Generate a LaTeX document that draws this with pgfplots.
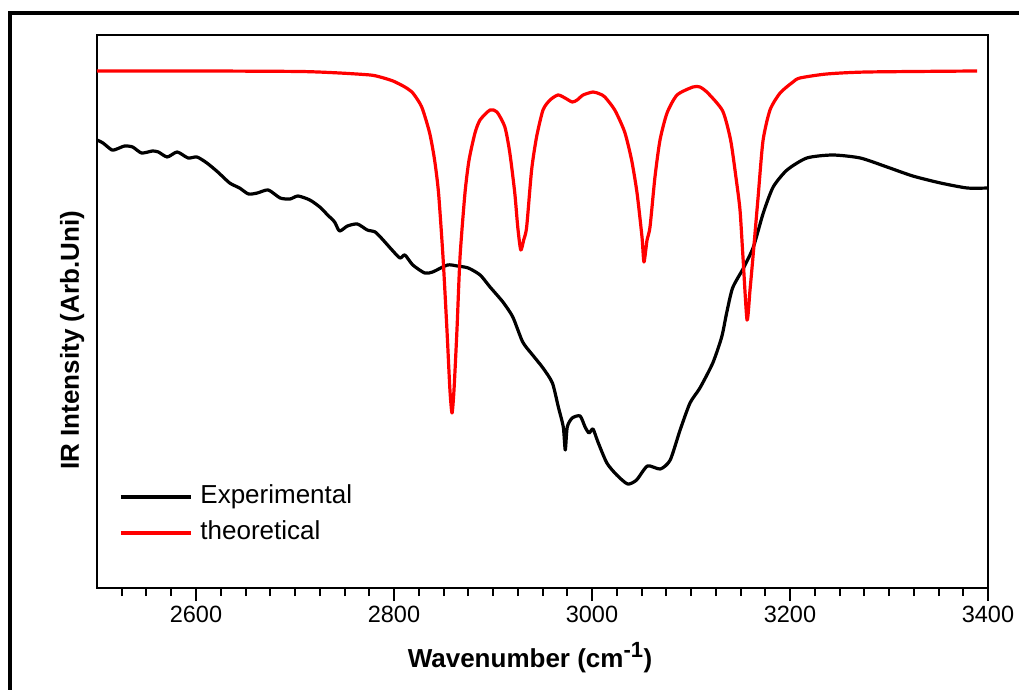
\documentclass[border=0pt]{standalone}
\usepackage{fontspec}
\setmainfont{Liberation Sans}
\usepackage{pgfplots}
\pgfplotsset{compat=1.18}
\begin{document}
\begin{tikzpicture}[x=1pt,y=1pt]
\useasboundingbox (-97,-102) rectangle (922,588);
\draw[line width=4.5pt] (-87,-200) rectangle (1000,575);
\begin{axis}[
 at={(0,0)}, anchor=south west,
 scale only axis, width=891pt, height=553pt,
 xmin=2500, xmax=3400, ymin=0, ymax=553,
 xtick={2600,2800,3000,3200,3400},
 minor xtick={2525,2550,...,3375},
 ytick=\empty,
 xtick pos=bottom, tick align=outside,
 major tick length=13pt, minor tick length=8pt,
 axis line style={line width=2pt},
 tick style={line width=2pt, black},
 /pgf/number format/assume math mode=true,
 /pgf/number format/1000 sep={},
 xticklabel style={font=\fontsize{23.5}{23.5}\selectfont, anchor=base, yshift=-21pt},
 xlabel={\bfseries Wavenumber (cm\textsuperscript{\fontsize{22}{22}\selectfont -1})},
 xlabel style={font=\fontsize{26}{26}\selectfont, at={(axis description cs:0.486,0)}, anchor=base, yshift=-79pt},
 ylabel={\bfseries IR Intensity (Arb.Uni)},
 ylabel style={font=\fontsize{26}{26}\selectfont, at={(axis description cs:-0.028,0.448)}, anchor=center, rotate=0},
 legend style={at={(axis description cs:0.0247,0.132)}, anchor=west, draw=none, fill=none, inner sep=0pt,
   font=\fontsize{26}{26}\selectfont, row sep=12pt,
   nodes={inner sep=0pt, text height=18pt, text depth=6pt},
   /tikz/every odd column/.append style={column sep=8pt}},
 legend cell align=left,
 legend image code/.code={\draw[#1] (0pt,0pt) -- (70pt,0pt);},
]
\addplot[black, line width=3.2pt, smooth, tension=0.4, line join=round] coordinates {
(2500,448)(2506,445)(2515,438)(2520,439)(2528,442)(2536,441)(2545,435)(2556,437)(2562,436)(2571,431)
(2581,436)(2592,430)(2601,431)(2611,425)(2622,416)(2634,405)(2644,400)(2653,394)(2662,395)(2673,398)
(2685,390)(2695,389)(2703,392)(2715,388)(2725,381)(2733,373)(2740,366)(2745,357)(2753,362)(2763,364)
(2773,358)(2781,356)(2789,348)(2798,338)(2806,330)(2811,333)(2819,323)(2831,315)(2839,316)(2854,323)
(2864,322)(2875,320)(2887,313)(2897,301)(2910,286)(2920,271)(2930,246)(2940,233)(2950.5,220)(2960,205)
(2966,181)(2971,161)(2973,138)(2975,161)(2980,170)(2988,172)(2993,161)(2997,155)(3001,159)(3006,146)
(3015,125)(3025,113)(3036,104)(3045,108)(3056,122)(3069,119)(3079,128)(3089,158)(3099,185)(3109,200)
(3122,225)(3131,251)(3136,275)(3142,300)(3153,320)(3163,341)(3173,375)(3183,401)(3197,418)(3217,430)
(3243,433)(3271,430)(3298,421)(3324,412)(3352,405)(3379,400)(3400,400)
};
\addlegendentry{Experimental}
\addplot[red, line width=3.2pt, smooth, tension=0.4, line join=round] coordinates {
(2500,517)(2604,517)(2705,516.5)(2745,515)(2776,513)(2786,511)(2799,507)(2811,501)(2819,495)(2828,481)
(2836,455)(2841,428)(2845,395)(2849.5,331)(2853.5,258)(2856.5,198)(2858.6,175)(2860.6,198)(2863.6,258)(2866.7,331)
(2871.7,395)(2875.8,428)(2881.8,455)(2886.9,468)(2897,478)(2904,476)(2912,461)(2917,435)(2922,395)(2925,361)
(2928,338)(2931,348)(2934,361)(2939,418)(2944,451)(2950.5,478)(2957.6,488)(2965.7,493)(2972.7,490)(2980,486)
(2985,488)(2991,493)(3001,496)(3008,494)(3013,491)(3023,478)(3033,456)(3040,428)(3045.5,395)(3050.5,351)
(3052.5,326)(3055.6,348)(3058.6,361)(3063.6,411)(3068.7,448)(3075.8,475)(3085.9,493)(3102,501)(3109,501)(3117,495)
(3132,477)(3140,448)(3145.5,410)(3149.5,378)(3152.5,331)(3156.6,268)(3159.6,298)(3162.6,331)(3167.7,390)(3172.7,447)
(3179.8,478)(3190,495)(3203,506)(3210,510)(3237,514)(3278,516)(3389,517)
};
\addlegendentry{theoretical}
\end{axis}
\end{tikzpicture}
\end{document}
